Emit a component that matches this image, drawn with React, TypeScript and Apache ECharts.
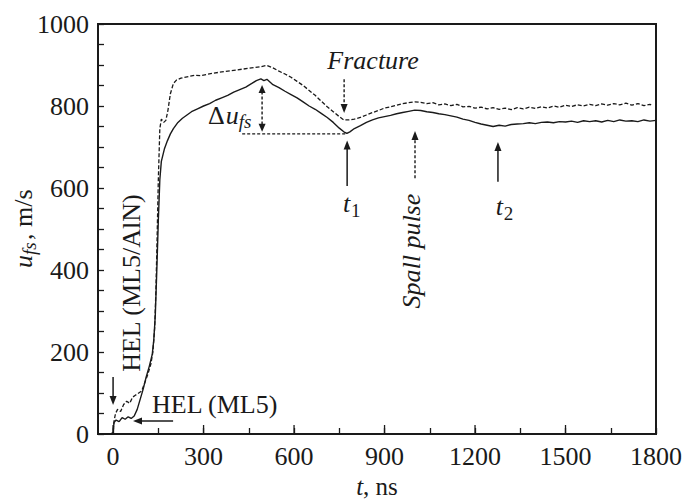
import React, { useEffect, useRef } from "react";
import * as echarts from "echarts";

// Tick values
const X_TICK_LABELS = [0, 300, 600, 900, 1200, 1500, 1800];
const X_TICKS = [0, 150, 300, 450, 600, 750, 900, 1050, 1200, 1350, 1500, 1650, 1800];
const Y_TICK_LABELS = [0, 200, 400, 600, 800, 1000];
const Y_TICKS = [0, 50, 100, 150, 200, 250, 300, 350, 400, 450, 500, 550, 600, 650, 700, 750, 800, 850, 900, 950, 1000];

// ML5 (solid) free-surface velocity, t in ns, u in m/s
const T_ML5 = [-50, -10, 0, 3, 10, 20, 30, 40, 50, 60, 70, 80, 90, 100, 110, 120, 130, 135, 140, 145, 150, 155, 160, 170, 180, 190, 200, 215, 230, 245, 260, 280, 300, 320, 340, 360, 380, 400, 420, 440, 460, 475, 490, 500, 510, 530, 550, 570, 590, 610, 630, 650, 670, 690, 710, 730, 750, 765, 775, 785, 800, 820, 840, 860, 880, 900, 920, 940, 960, 980, 1000, 1020, 1040, 1060, 1080, 1100, 1120, 1140, 1160, 1180, 1200, 1220, 1240, 1260, 1280, 1300, 1320, 1340, 1360, 1380, 1400, 1420, 1440, 1460, 1480, 1500, 1520, 1540, 1560, 1580, 1600, 1620, 1640, 1660, 1680, 1700, 1720, 1740, 1760, 1780, 1800];
const U_ML5 = [0, 0, 2, 28, 34, 30, 40, 36, 42, 38, 44, 60, 85, 110, 140, 165, 195, 230, 290, 400, 520, 620, 665, 695, 715, 732, 745, 760, 770, 778, 786, 793, 800, 806, 814, 820, 826, 834, 840, 846, 855, 862, 866, 862, 865, 852, 845, 836, 828, 820, 810, 800, 792, 782, 772, 760, 746, 737, 733, 737, 745, 752, 760, 766, 771, 774, 777, 781, 784, 787, 790, 789, 786, 784, 781, 779, 776, 773, 768, 765, 760, 756, 753, 750, 753, 751, 755, 756, 757, 759, 757, 760, 761, 759, 762, 761, 763, 760, 764, 762, 764, 761, 765, 762, 766, 763, 764, 762, 766, 763, 765];

// ML5/AlN (dashed)
const T_ALN = [-50, -10, 0, 3, 8, 15, 25, 35, 45, 55, 65, 75, 85, 95, 105, 115, 125, 132, 138, 142, 146, 150, 155, 160, 168, 175, 182, 190, 200, 210, 225, 250, 270, 290, 310, 330, 350, 370, 390, 410, 430, 450, 470, 490, 510, 530, 550, 570, 590, 610, 630, 650, 670, 690, 710, 730, 750, 765, 780, 800, 820, 840, 860, 880, 900, 920, 940, 960, 980, 1000, 1020, 1040, 1060, 1080, 1100, 1120, 1140, 1160, 1180, 1200, 1220, 1240, 1260, 1280, 1300, 1320, 1340, 1360, 1380, 1400, 1420, 1440, 1460, 1480, 1500, 1520, 1540, 1560, 1580, 1600, 1620, 1640, 1660, 1680, 1700, 1720, 1740, 1760, 1780, 1790];
const U_ALN = [0, 0, 3, 30, 50, 60, 55, 72, 80, 75, 90, 95, 100, 105, 125, 145, 170, 200, 260, 350, 480, 620, 745, 768, 760, 765, 790, 830, 855, 863, 868, 872, 875, 874, 877, 880, 882, 884, 886, 888, 890, 892, 894, 896, 899, 893, 885, 878, 870, 860, 850, 838, 826, 812, 798, 786, 774, 766, 766, 768, 772, 778, 784, 789, 795, 798, 802, 806, 808, 810, 809, 806, 808, 803, 805, 801, 804, 798, 799, 795, 797, 793, 796, 792, 795, 791, 796, 793, 797, 794, 798, 795, 800, 797, 802, 799, 803, 800, 804, 801, 805, 802, 806, 803, 807, 802, 806, 801, 804, 800];

const FONT = "Liberation Serif";
const INK = "#1a1a1a";

export default function App() {
  const ref = useRef<HTMLDivElement>(null);

  useEffect(() => {
    if (!ref.current) return;
    const chart = echarts.init(ref.current, undefined, { renderer: "svg" });
    const option: any = {
      animation: false,
      backgroundColor: "#ffffff",
      textStyle: { fontFamily: FONT },
      grid: {
        left: 98,
        right: 31,
        top: 24,
        bottom: 65,
        outerBoundsMode: "none",
        containLabel: false,
        show: true,
        borderColor: INK,
        borderWidth: 2,
        backgroundColor: "transparent",
      },
      xAxis: {
        type: "value",
        min: -50,
        max: 1800,
        axisLine: { show: true, onZero: false, lineStyle: { color: INK, width: 2 } },
        axisTick: {
          show: true,
          inside: true,
          length: 6,
          customValues: X_TICKS,
          lineStyle: { color: INK, width: 1.3 },
        },
        axisLabel: {
          customValues: X_TICK_LABELS,
          formatter: (v: number) => String(v),
          fontSize: 26,
          fontFamily: FONT,
          color: INK,
          margin: 9,
        },
        splitLine: { show: false },
        name: "{i|t}{n|, ns}",
        nameLocation: "middle",
        nameGap: 35,
        nameTextStyle: {
          lineHeight: 24,
          rich: {
            i: { fontSize: 25, fontFamily: FONT, fontStyle: "italic", color: INK, lineHeight: 24 },
            n: { fontSize: 25, fontFamily: FONT, color: INK, lineHeight: 24 },
          },
        },
      },
      yAxis: {
        type: "value",
        min: 0,
        max: 1000,
        axisLine: { show: true, onZero: false, lineStyle: { color: INK, width: 2 } },
        axisTick: {
          show: true,
          inside: true,
          length: 6,
          customValues: Y_TICKS,
          lineStyle: { color: INK, width: 1.3 },
        },
        axisLabel: {
          customValues: Y_TICK_LABELS,
          formatter: (v: number) => String(v),
          fontSize: 26,
          fontFamily: FONT,
          color: INK,
          margin: 9,
        },
        splitLine: { show: false },
      },
      series: [
        {
          name: "ML5",
          type: "line",
          data: T_ML5.map((t, i) => [t, U_ML5[i]]),
          showSymbol: false,
          lineStyle: { color: INK, width: 1.4 },
          z: 3,
        },
        {
          name: "ML5/AlN",
          type: "line",
          data: T_ALN.map((t, i) => [t, U_ALN[i]]),
          showSymbol: false,
          lineStyle: { color: INK, width: 1.3, type: [4, 2] },
          z: 3,
        },
      ],
    };
    chart.setOption(option);

    const p = (t: number, v: number) => chart.convertToPixel({ gridIndex: 0 }, [t, v]) as number[];
    const els: any[] = [];

    const arrowHead = (tip: number[], from: number[], len = 9, hw = 3.5) => {
      const dx = tip[0] - from[0];
      const dy = tip[1] - from[1];
      const d = Math.hypot(dx, dy) || 1;
      const ux = dx / d, uy = dy / d;
      const bx = tip[0] - ux * len, by = tip[1] - uy * len;
      return {
        type: "polygon",
        shape: { points: [tip, [bx - uy * hw, by + ux * hw], [bx + uy * hw, by - ux * hw]] },
        style: { fill: INK },
        z: 10,
      };
    };
    const arrow = (a: number[], b: number[], dashed: boolean, both = false, len = 9) => {
      const dx = b[0] - a[0], dy = b[1] - a[1];
      const d = Math.hypot(dx, dy) || 1;
      const ux = dx / d, uy = dy / d;
      const start = both ? [a[0] + ux * len * 0.8, a[1] + uy * len * 0.8] : a;
      const end = [b[0] - ux * len * 0.8, b[1] - uy * len * 0.8];
      els.push({
        type: "line",
        shape: { x1: start[0], y1: start[1], x2: end[0], y2: end[1] },
        style: { stroke: INK, lineWidth: dashed ? 1.4 : 1.5, lineDash: dashed ? [3, 2] : undefined },
        z: 10,
      });
      els.push(arrowHead(b, a, len));
      if (both) els.push(arrowHead(a, b, len));
    };
    const text = (pos: number[], str: string, opts: any = {}) => {
      els.push({
        type: "text",
        x: pos[0],
        y: pos[1],
        rotation: opts.rotation || 0,
        style: {
          text: str,
          x: opts.dx || 0,
          y: opts.dy || 0,
          fontSize: opts.fontSize || 26,
          fontFamily: FONT,
          fontStyle: opts.italic ? "italic" : "normal",
          fill: INK,
          align: opts.align || "center",
          verticalAlign: opts.verticalAlign || "middle",
        },
        z: 11,
      });
    };

    // major x ticks (longer)
    X_TICK_LABELS.forEach((t) => {
      const q = p(t, 0);
      els.push({
        type: "line",
        shape: { x1: q[0], y1: q[1], x2: q[0], y2: q[1] - 9 },
        style: { stroke: INK, lineWidth: 1.3 },
        z: 10,
      });
    });

    // Fracture
    text(p(862, 912), "Fracture", { italic: true });
    arrow(p(766, 865), p(766, 783), true);

    // Δu_fs
    arrow(p(494, 851), p(494, 737), true, true, 8);
    const h1 = p(428, 732), h2 = p(776, 732);
    els.push({
      type: "line",
      shape: { x1: h1[0], y1: h1[1], x2: h2[0], y2: h2[1] },
      style: { stroke: INK, lineWidth: 1.4, lineDash: [3, 2] },
      z: 10,
    });
    const du = p(370, 778);
    text(du, "Δ", { align: "right" });
    text([du[0] + 1, du[1]], "u", { italic: true, align: "left" });
    text([du[0] + 14, du[1] + 6], "fs", { italic: true, align: "left", fontSize: 19 });

    // t1
    arrow(p(776, 605), p(776, 716), false);
    const t1 = p(762, 561);
    text(t1, "t", { italic: true, align: "left" });
    text([t1[0] + 8, t1[1] + 7], "1", { align: "left", fontSize: 19 });

    // Spall pulse
    arrow(p(1001, 624), p(1001, 739), true);
    text(p(991, 446), "Spall pulse", { italic: true, rotation: Math.PI / 2 });

    // t2
    arrow(p(1276, 615), p(1276, 712), false);
    const t2 = p(1269, 554);
    text(t2, "t", { italic: true, align: "left" });
    text([t2[0] + 8, t2[1] + 7], "2", { align: "left", fontSize: 19 });

    // HEL labels
    text(p(60, 368), "HEL (ML5/AlN)", { rotation: Math.PI / 2 });
    arrow(p(0, 139), p(0, 71), false);
    text(p(129, 73), "HEL (ML5)", { align: "left" });
    arrow(p(199, 32), p(66, 32), false);

    // y-axis title u_fs, m/s (rotated, reading bottom to top)
    const yx = 23, yc = 228;
    els.push({
      type: "group",
      x: yx,
      y: yc,
      rotation: Math.PI / 2,
      children: [
        { type: "text", style: { text: "u", x: -40, y: 0, fontSize: 26, fontFamily: FONT, fontStyle: "italic", fill: INK, align: "left", verticalAlign: "middle" } },
        { type: "text", style: { text: "fs", x: -27, y: 6, fontSize: 19, fontFamily: FONT, fontStyle: "italic", fill: INK, align: "left", verticalAlign: "middle" } },
        { type: "text", style: { text: ", m/s", x: -12, y: 0, fontSize: 26, fontFamily: FONT, fill: INK, align: "left", verticalAlign: "middle" } },
      ],
      z: 11,
    });

    chart.setOption({ graphic: els });

    return () => chart.dispose();
  }, []);

  return (
    <div
      ref={ref}
      style={{ position: "fixed", left: 0, top: 0, width: 687, height: 499, background: "#fff" }}
    />
  );
}
